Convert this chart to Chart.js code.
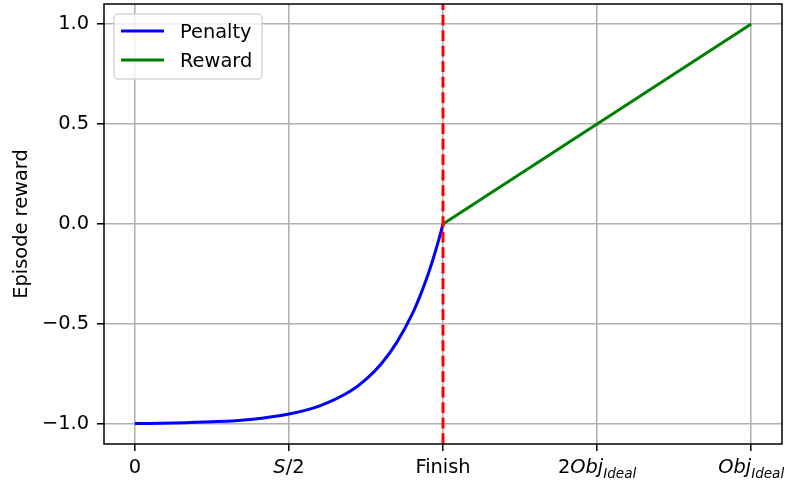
<!DOCTYPE html>
<html>
<head>
<meta charset="utf-8">
<script src="https://cdn.jsdelivr.net/npm/chart.js@4.4.1/dist/chart.umd.min.js"></script>
<style>
  html, body { margin: 0; padding: 0; background: #fff; }
  canvas { display: block; }
</style>
</head>
<body>
<canvas id="c" width="786" height="481"></canvas>
<script>
// ---- data ----
const xTickValues = [0, 1, 2, 3, 4];
const xTickLabels = ['0', '$S/2$', 'Finish', '$2Obj_{Ideal}$', '$Obj_{Ideal}$'];
const yTickValues = [-1, -0.5, 0, 0.5, 1];

const seriesNames = ['Penalty', 'Reward'];
const penaltyX = [0, 0.25, 0.5, 0.75, 1.0, 1.2, 1.4, 1.5, 1.6, 1.7, 1.8, 1.85, 1.9, 1.925, 1.95, 1.975, 2.0];
const penaltyY = [-0.998, -0.995, -0.989, -0.977, -0.950, -0.909, -0.835, -0.777, -0.699, -0.592, -0.451, -0.362, -0.259, -0.201, -0.139, -0.072, 0];
const rewardX = [2, 4];
const rewardY = [0, 1];
const finishX = 2;
const yAxisTitle = 'Episode reward';

// ---- styling ----
const FAMILY = '"DejaVu Sans"';
const SIZE = 19.4;
const GRID = '#b0b0b0';

Chart.defaults.font.family = FAMILY;
Chart.defaults.font.size = SIZE;
Chart.defaults.color = '#000';

// Split a "$...$" label into runs: letters italic, digits/symbols upright, _{..} subscripted.
function parseMath(str) {
  if (!(str.length > 1 && str[0] === '$' && str[str.length - 1] === '$')) {
    return [{ text: str, italic: false, sub: false }];
  }
  const s = str.slice(1, -1);
  const runs = [];
  const push = (ch, sub) => {
    const italic = /[A-Za-z]/.test(ch);
    const last = runs[runs.length - 1];
    if (last && last.italic === italic && last.sub === sub) last.text += ch;
    else runs.push({ text: ch, italic, sub });
  };
  for (let i = 0; i < s.length; i++) {
    if (s[i] === '_' && s[i + 1] === '{') {
      const end = s.indexOf('}', i);
      for (const ch of s.slice(i + 2, end)) push(ch, true);
      i = end;
    } else {
      push(s[i], false);
    }
  }
  return runs;
}

function runFont(r) {
  const size = r.sub ? SIZE * 0.7 : SIZE;
  return (r.italic ? 'italic ' : '') + size + 'px ' + FAMILY;
}

const decorations = {
  id: 'decorations',
  afterDatasetsDraw(chart) {
    const { ctx, chartArea: a, scales } = chart;
    ctx.save();

    // frame around the plotting area
    ctx.strokeStyle = '#000';
    ctx.lineWidth = 1.5;
    ctx.strokeRect(a.left, a.top, a.right - a.left, a.bottom - a.top);

    // x tick labels (with italic / subscript runs)
    ctx.fillStyle = '#000';
    ctx.textBaseline = 'alphabetic';
    ctx.textAlign = 'left';
    const baseY = a.bottom + 29;
    xTickValues.forEach((v, i) => {
      const runs = parseMath(xTickLabels[i]);
      let total = 0;
      runs.forEach(r => { ctx.font = runFont(r); r.w = ctx.measureText(r.text).width; total += r.w; });
      let x = scales.x.getPixelForValue(v) - total / 2;
      runs.forEach(r => {
        ctx.font = runFont(r);
        ctx.fillText(r.text, x, baseY + (r.sub ? 4.5 : 0));
        x += r.w;
      });
    });

    // y axis title
    ctx.save();
    ctx.translate(27, (a.top + a.bottom) / 2);
    ctx.rotate(-Math.PI / 2);
    ctx.textAlign = 'center';
    ctx.font = SIZE + 'px ' + FAMILY;
    ctx.fillText(yAxisTitle, 0, 0);
    ctx.restore();

    // legend
    const lx = a.left + 10, ly = a.top + 10, lw = 148, lh = 65, rad = 4;
    ctx.beginPath();
    ctx.roundRect(lx, ly, lw, lh, rad);
    ctx.fillStyle = 'rgba(255,255,255,0.8)';
    ctx.fill();
    ctx.strokeStyle = '#d5d5d5';
    ctx.lineWidth = 1.5;
    ctx.stroke();
    const entries = chart.data.datasets.filter(d => d.label);
    entries.forEach((d, i) => {
      const cy = ly + 17 + i * 29;
      ctx.beginPath();
      ctx.moveTo(lx + 7, cy);
      ctx.lineTo(lx + 50, cy);
      ctx.strokeStyle = d.borderColor;
      ctx.lineWidth = d.borderWidth;
      ctx.stroke();
      ctx.fillStyle = '#000';
      ctx.font = SIZE + 'px ' + FAMILY;
      ctx.textAlign = 'left';
      ctx.textBaseline = 'alphabetic';
      ctx.fillText(d.label, lx + 66, cy + 6.5);
    });

    ctx.restore();
  }
};

const gridOpts = {
  color: GRID,
  lineWidth: 1.55,
  drawTicks: true,
  tickLength: 7,
  tickColor: '#000',
  tickWidth: 1.5
};

new Chart(document.getElementById('c'), {
  type: 'line',
  data: {
    datasets: [
      {
        label: seriesNames[0],
        data: penaltyX.map((x, i) => ({ x, y: penaltyY[i] })),
        borderColor: '#0000ff',
        borderWidth: 3,
        pointRadius: 0,
        cubicInterpolationMode: 'monotone',
        order: 2
      },
      {
        label: seriesNames[1],
        data: rewardX.map((x, i) => ({ x, y: rewardY[i] })),
        borderColor: '#008000',
        borderWidth: 3,
        pointRadius: 0,
        order: 1
      },
      {
        label: '',
        data: [{ x: finishX, y: -1.1 }, { x: finishX, y: 1.1 }],
        borderColor: '#ff0000',
        borderWidth: 3,
        borderDash: [10.8, 4.7],
        pointRadius: 0,
        order: 0
      }
    ]
  },
  options: {
    responsive: false,
    animation: false,
    devicePixelRatio: 1,
    layout: { padding: { top: 4, right: 4, left: 0, bottom: 0 } },
    plugins: { legend: { display: false }, tooltip: { enabled: false } },
    scales: {
      x: {
        type: 'linear',
        min: -0.2,
        max: 4.2,
        afterBuildTicks: s => { s.ticks = xTickValues.map(v => ({ value: v })); },
        afterFit: s => { s.height = 37; s.paddingLeft = 0; s.paddingRight = 0; },
        ticks: { autoSkip: false, maxRotation: 0, callback: () => '' },
        grid: gridOpts,
        border: { display: false }
      },
      y: {
        type: 'linear',
        min: -1.1,
        max: 1.1,
        afterBuildTicks: s => { s.ticks = yTickValues.map(v => ({ value: v })); },
        afterFit: s => { s.width = 104; s.paddingTop = 0; s.paddingBottom = 0; },
        ticks: {
          autoSkip: false,
          padding: 8,
          color: '#000',
          font: { size: SIZE },
          callback: v => (v < 0 ? '\u2212' : '') + Math.abs(v).toFixed(1)
        },
        grid: gridOpts,
        border: { display: false }
      }
    }
  },
  plugins: [decorations]
});
</script>
</body>
</html>
